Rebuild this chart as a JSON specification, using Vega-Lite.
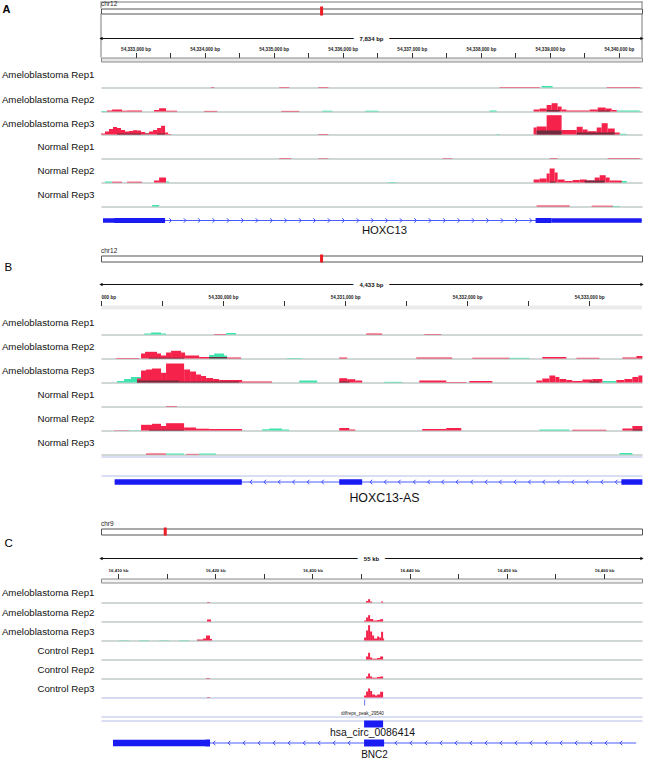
{
"$schema": "https://vega.github.io/schema/vega-lite/v6.json",
"background": "#ffffff",
"padding": {"left": 1, "top": 0.5, "right": 0, "bottom": 0},
"spacing": 0,
"bounds": "flush",
"config": {
  "font": "Liberation Sans",
  "view": {"stroke": null},
  "axisX": {"labels": false, "ticks": false, "grid": false, "domain": true, "domainColor": "#9fb1ad", "domainWidth": 1},
  "axisY": {"labels": false, "ticks": false, "grid": false, "domain": false, "titleAngle": 0, "titleAlign": "right", "titleBaseline": "middle", "titleX": -7, "titleFontSize": 9.7, "titleFontWeight": "normal", "titleColor": "#111111"},
  "title": {"anchor": "start", "fontSize": 6.5, "fontWeight": "normal", "color": "#222222", "offset": 1, "frame": "group"}
},
"datasets": {
  "ideo": [
    {"panel": "A", "chrom": "chr12", "length": 133275309, "pos": 54336417},
    {"panel": "B", "chrom": "chr12", "length": 133275309, "pos": 54331216},
    {"panel": "C", "chrom": "chr9", "length": 138394717, "pos": 16436075}
  ],
  "ruler": [
    {"panel": "A", "start": 54332500, "end": 54340334, "label": "7,834 bp"},
    {"panel": "B", "start": 54329000, "end": 54333433, "label": "4,433 bp"},
    {"panel": "C", "start": 16408250, "end": 16463900, "label": "55 kb"}
  ],
  "feat": [
    {"panel": "A", "kind": "tx", "start": 54332529, "end": 54340330},
    {"panel": "A", "kind": "utr", "start": 54332529, "end": 54332689},
    {"panel": "A", "kind": "cds", "start": 54332689, "end": 54333428},
    {"panel": "A", "kind": "cds", "start": 54338793, "end": 54339025},
    {"panel": "A", "kind": "utr", "start": 54339025, "end": 54340330},
    {"panel": "B", "kind": "tx", "start": 54329112, "end": 54333436},
    {"panel": "B", "kind": "nc", "start": 54329112, "end": 54330154},
    {"panel": "B", "kind": "nc", "start": 54330952, "end": 54331140},
    {"panel": "B", "kind": "nc", "start": 54333264, "end": 54333436},
    {"panel": "C", "kind": "tx", "start": 16409485, "end": 16463302},
    {"panel": "C", "kind": "utr2", "start": 16409485, "end": 16418952},
    {"panel": "C", "kind": "cds2", "start": 16418952, "end": 16419466},
    {"panel": "C", "kind": "cds2", "start": 16435313, "end": 16437371},
    {"panel": "C", "kind": "circ", "start": 16435313, "end": 16437268},
    {"panel": "C", "kind": "peak", "start": 16435365, "end": 16435416}
  ],
  "chev": [
    {"panel": "A", "start": 54333508}, {"panel": "A", "start": 54333718}, {"panel": "A", "start": 54333925}, {"panel": "A", "start": 54334134},
    {"panel": "A", "start": 54334342}, {"panel": "A", "start": 54334550}, {"panel": "A", "start": 54334759}, {"panel": "A", "start": 54334968},
    {"panel": "A", "start": 54335177}, {"panel": "A", "start": 54335386}, {"panel": "A", "start": 54335594}, {"panel": "A", "start": 54335803},
    {"panel": "A", "start": 54336012}, {"panel": "A", "start": 54336221}, {"panel": "A", "start": 54336430}, {"panel": "A", "start": 54336638},
    {"panel": "A", "start": 54336847}, {"panel": "A", "start": 54337056}, {"panel": "A", "start": 54337265}, {"panel": "A", "start": 54337474},
    {"panel": "A", "start": 54337682}, {"panel": "A", "start": 54337891}, {"panel": "A", "start": 54338100}, {"panel": "A", "start": 54338309},
    {"panel": "A", "start": 54338518}, {"panel": "A", "start": 54338726},
    {"panel": "B", "start": 54330228}, {"panel": "B", "start": 54330342}, {"panel": "B", "start": 54330460}, {"panel": "B", "start": 54330577},
    {"panel": "B", "start": 54330697}, {"panel": "B", "start": 54330815}, {"panel": "B", "start": 54331212}, {"panel": "B", "start": 54331329},
    {"panel": "B", "start": 54331444}, {"panel": "B", "start": 54331567}, {"panel": "B", "start": 54331684}, {"panel": "B", "start": 54331799},
    {"panel": "B", "start": 54331917}, {"panel": "B", "start": 54332037}, {"panel": "B", "start": 54332155}, {"panel": "B", "start": 54332272},
    {"panel": "B", "start": 54332392}, {"panel": "B", "start": 54332510}, {"panel": "B", "start": 54332627}, {"panel": "B", "start": 54332747},
    {"panel": "B", "start": 54332865}, {"panel": "B", "start": 54332983}, {"panel": "B", "start": 54333103}, {"panel": "B", "start": 54333221},
    {"panel": "C", "start": 16419878}, {"panel": "C", "start": 16421421}, {"panel": "C", "start": 16422965}, {"panel": "C", "start": 16424508},
    {"panel": "C", "start": 16426052}, {"panel": "C", "start": 16427595}, {"panel": "C", "start": 16429139}, {"panel": "C", "start": 16430682},
    {"panel": "C", "start": 16432226}, {"panel": "C", "start": 16433769}, {"panel": "C", "start": 16438575}, {"panel": "C", "start": 16440118},
    {"panel": "C", "start": 16441662}, {"panel": "C", "start": 16443205}, {"panel": "C", "start": 16444749}, {"panel": "C", "start": 16446292},
    {"panel": "C", "start": 16447836}, {"panel": "C", "start": 16449379}, {"panel": "C", "start": 16450923}, {"panel": "C", "start": 16452466},
    {"panel": "C", "start": 16454010}, {"panel": "C", "start": 16455553}, {"panel": "C", "start": 16457097}, {"panel": "C", "start": 16458640},
    {"panel": "C", "start": 16460184}, {"panel": "C", "start": 16461727}
  ],
  "cov": [
    {"track": "A3", "strand": "rev", "start": 54333080, "end": 54333196, "value": 1.5},
    {"track": "A3", "strand": "rev", "start": 54338228, "end": 54338271, "value": 0.5},
    {"track": "A3", "strand": "rev", "start": 54339533, "end": 54339605, "value": 1.5},
    {"track": "A3", "strand": "rev", "start": 54340011, "end": 54340113, "value": 0.7},
    {"track": "A2", "strand": "rev", "start": 54332500, "end": 54332587, "value": 0.5},
    {"track": "A2", "strand": "rev", "start": 54335705, "end": 54335850, "value": 0.8},
    {"track": "A2", "strand": "rev", "start": 54336328, "end": 54336517, "value": 0.8},
    {"track": "A2", "strand": "rev", "start": 54338126, "end": 54338228, "value": 1},
    {"track": "A2", "strand": "rev", "start": 54339968, "end": 54340301, "value": 1},
    {"track": "A1", "strand": "rev", "start": 54338880, "end": 54339040, "value": 1.5},
    {"track": "A5", "strand": "rev", "start": 54332558, "end": 54332660, "value": 1},
    {"track": "A5", "strand": "rev", "start": 54333442, "end": 54333486, "value": 1},
    {"track": "A5", "strand": "rev", "start": 54336662, "end": 54336778, "value": 0.5},
    {"track": "A5", "strand": "rev", "start": 54340011, "end": 54340113, "value": 1.5},
    {"track": "A6", "strand": "rev", "start": 54333240, "end": 54333341, "value": 1.5},
    {"track": "A6", "strand": "rev", "start": 54339895, "end": 54340011, "value": 0.6},
    {"track": "B3", "strand": "rev", "start": 54329131, "end": 54329189, "value": 1.5},
    {"track": "B3", "strand": "rev", "start": 54329189, "end": 54329246, "value": 3.5},
    {"track": "B3", "strand": "rev", "start": 54329246, "end": 54329328, "value": 5.5},
    {"track": "B3", "strand": "rev", "start": 54330624, "end": 54330771, "value": 2},
    {"track": "B3", "strand": "rev", "start": 54331321, "end": 54331468, "value": 0.7},
    {"track": "B3", "strand": "rev", "start": 54333108, "end": 54333223, "value": 1.5},
    {"track": "B2", "strand": "rev", "start": 54329886, "end": 54329927, "value": 3.5},
    {"track": "B2", "strand": "rev", "start": 54329927, "end": 54330009, "value": 5},
    {"track": "B2", "strand": "rev", "start": 54330009, "end": 54330033, "value": 3},
    {"track": "B2", "strand": "rev", "start": 54330525, "end": 54330648, "value": 0.5},
    {"track": "B2", "strand": "rev", "start": 54332346, "end": 54332510, "value": 0.7},
    {"track": "B1", "strand": "rev", "start": 54329353, "end": 54329410, "value": 1},
    {"track": "B1", "strand": "rev", "start": 54329410, "end": 54329492, "value": 2},
    {"track": "B1", "strand": "rev", "start": 54329492, "end": 54329533, "value": 1},
    {"track": "B1", "strand": "rev", "start": 54330025, "end": 54330107, "value": 1.5},
    {"track": "B5", "strand": "rev", "start": 54329230, "end": 54329328, "value": 0.3},
    {"track": "B5", "strand": "rev", "start": 54330320, "end": 54330378, "value": 1.2},
    {"track": "B5", "strand": "rev", "start": 54330378, "end": 54330484, "value": 2},
    {"track": "B5", "strand": "rev", "start": 54330484, "end": 54330542, "value": 1},
    {"track": "B5", "strand": "rev", "start": 54332592, "end": 54332838, "value": 1},
    {"track": "B6", "strand": "rev", "start": 54329533, "end": 54329681, "value": 1},
    {"track": "B6", "strand": "rev", "start": 54329804, "end": 54329943, "value": 1},
    {"track": "B6", "strand": "rev", "start": 54333248, "end": 54333354, "value": 1.5},
    {"track": "C3", "strand": "rev", "start": 16410102, "end": 16411131, "value": 0.3},
    {"track": "C3", "strand": "rev", "start": 16412160, "end": 16413189, "value": 0.4},
    {"track": "C3", "strand": "rev", "start": 16414218, "end": 16415247, "value": 0.3},
    {"track": "C3", "strand": "rev", "start": 16416276, "end": 16417305, "value": 0.4},
    {"track": "C3", "strand": "rev", "start": 16418128, "end": 16418746, "value": 0.5},

    {"track": "A3", "strand": "fwd", "start": 54332500, "end": 54332558, "value": 1},
    {"track": "A3", "strand": "fwd", "start": 54332558, "end": 54332616, "value": 3},
    {"track": "A3", "strand": "fwd", "start": 54332616, "end": 54332674, "value": 5.5},
    {"track": "A3", "strand": "fwd", "start": 54332674, "end": 54332732, "value": 7.5},
    {"track": "A3", "strand": "fwd", "start": 54332732, "end": 54332790, "value": 6.5},
    {"track": "A3", "strand": "fwd", "start": 54332790, "end": 54332848, "value": 4.5},
    {"track": "A3", "strand": "fwd", "start": 54332848, "end": 54332906, "value": 3},
    {"track": "A3", "strand": "fwd", "start": 54332906, "end": 54332964, "value": 3.5},
    {"track": "A3", "strand": "fwd", "start": 54332964, "end": 54333022, "value": 4.3},
    {"track": "A3", "strand": "fwd", "start": 54333022, "end": 54333080, "value": 4},
    {"track": "A3", "strand": "fwd", "start": 54333080, "end": 54333138, "value": 2.5},
    {"track": "A3", "strand": "fwd", "start": 54333138, "end": 54333196, "value": 1.2},
    {"track": "A3", "strand": "fwd", "start": 54333196, "end": 54333254, "value": 3},
    {"track": "A3", "strand": "fwd", "start": 54333254, "end": 54333312, "value": 4.5},
    {"track": "A3", "strand": "fwd", "start": 54333312, "end": 54333370, "value": 6.5},
    {"track": "A3", "strand": "fwd", "start": 54333370, "end": 54333428, "value": 8.7},
    {"track": "A3", "strand": "fwd", "start": 54333428, "end": 54333472, "value": 2},
    {"track": "A3", "strand": "fwd", "start": 54333472, "end": 54333515, "value": 0.5},
    {"track": "A3", "strand": "fwd", "start": 54335647, "end": 54335792, "value": 0.5},
    {"track": "A3", "strand": "fwd", "start": 54338764, "end": 54338808, "value": 7},
    {"track": "A3", "strand": "fwd", "start": 54338808, "end": 54338953, "value": 8},
    {"track": "A3", "strand": "fwd", "start": 54338953, "end": 54339170, "value": 19.3},
    {"track": "A3", "strand": "fwd", "start": 54339170, "end": 54339388, "value": 4.5},
    {"track": "A3", "strand": "fwd", "start": 54339388, "end": 54339475, "value": 7.7},
    {"track": "A3", "strand": "fwd", "start": 54339475, "end": 54339547, "value": 5},
    {"track": "A3", "strand": "fwd", "start": 54339547, "end": 54339678, "value": 3.3},
    {"track": "A3", "strand": "fwd", "start": 54339678, "end": 54339750, "value": 7},
    {"track": "A3", "strand": "fwd", "start": 54339750, "end": 54339837, "value": 11.3},
    {"track": "A3", "strand": "fwd", "start": 54339837, "end": 54339939, "value": 6},
    {"track": "A3", "strand": "fwd", "start": 54339939, "end": 54340011, "value": 2},
    {"track": "A2", "strand": "fwd", "start": 54332587, "end": 54332660, "value": 1},
    {"track": "A2", "strand": "fwd", "start": 54332660, "end": 54332804, "value": 2},
    {"track": "A2", "strand": "fwd", "start": 54332804, "end": 54332877, "value": 0.8},
    {"track": "A2", "strand": "fwd", "start": 54332877, "end": 54333094, "value": 1},
    {"track": "A2", "strand": "fwd", "start": 54333268, "end": 54333341, "value": 1.5},
    {"track": "A2", "strand": "fwd", "start": 54333341, "end": 54333442, "value": 3.3},
    {"track": "A2", "strand": "fwd", "start": 54333442, "end": 54333602, "value": 0.8},
    {"track": "A2", "strand": "fwd", "start": 54333994, "end": 54334182, "value": 0.6},
    {"track": "A2", "strand": "fwd", "start": 54335110, "end": 54335371, "value": 0.6},
    {"track": "A2", "strand": "fwd", "start": 54338764, "end": 54338851, "value": 2},
    {"track": "A2", "strand": "fwd", "start": 54338851, "end": 54338953, "value": 3},
    {"track": "A2", "strand": "fwd", "start": 54338953, "end": 54339025, "value": 6.5},
    {"track": "A2", "strand": "fwd", "start": 54339025, "end": 54339112, "value": 8.3},
    {"track": "A2", "strand": "fwd", "start": 54339112, "end": 54339170, "value": 5},
    {"track": "A2", "strand": "fwd", "start": 54339170, "end": 54339243, "value": 2},
    {"track": "A2", "strand": "fwd", "start": 54339243, "end": 54339576, "value": 1},
    {"track": "A2", "strand": "fwd", "start": 54339576, "end": 54339692, "value": 2},
    {"track": "A2", "strand": "fwd", "start": 54339692, "end": 54339808, "value": 4},
    {"track": "A2", "strand": "fwd", "start": 54339808, "end": 54339895, "value": 3},
    {"track": "A2", "strand": "fwd", "start": 54339895, "end": 54339968, "value": 1.5},
    {"track": "A1", "strand": "fwd", "start": 54334095, "end": 54334139, "value": 0.5},
    {"track": "A1", "strand": "fwd", "start": 54335081, "end": 54335226, "value": 0.5},
    {"track": "A1", "strand": "fwd", "start": 54335647, "end": 54335792, "value": 0.5},
    {"track": "A1", "strand": "fwd", "start": 54338271, "end": 54338851, "value": 0.6},
    {"track": "A1", "strand": "fwd", "start": 54339823, "end": 54340301, "value": 0.6},
    {"track": "A4", "strand": "fwd", "start": 54335081, "end": 54335255, "value": 0.5},
    {"track": "A4", "strand": "fwd", "start": 54335647, "end": 54335792, "value": 0.4},
    {"track": "A4", "strand": "fwd", "start": 54337445, "end": 54337590, "value": 0.4},
    {"track": "A4", "strand": "fwd", "start": 54338996, "end": 54339112, "value": 0.5},
    {"track": "A4", "strand": "fwd", "start": 54339837, "end": 54340301, "value": 0.5},
    {"track": "A5", "strand": "fwd", "start": 54332660, "end": 54332804, "value": 0.8},
    {"track": "A5", "strand": "fwd", "start": 54332877, "end": 54333094, "value": 0.8},
    {"track": "A5", "strand": "fwd", "start": 54333268, "end": 54333341, "value": 2},
    {"track": "A5", "strand": "fwd", "start": 54333341, "end": 54333442, "value": 5},
    {"track": "A5", "strand": "fwd", "start": 54338764, "end": 54338851, "value": 3},
    {"track": "A5", "strand": "fwd", "start": 54338851, "end": 54338953, "value": 4},
    {"track": "A5", "strand": "fwd", "start": 54338953, "end": 54338996, "value": 9},
    {"track": "A5", "strand": "fwd", "start": 54338996, "end": 54339069, "value": 14},
    {"track": "A5", "strand": "fwd", "start": 54339069, "end": 54339112, "value": 10},
    {"track": "A5", "strand": "fwd", "start": 54339112, "end": 54339214, "value": 3},
    {"track": "A5", "strand": "fwd", "start": 54339214, "end": 54339330, "value": 1.5},
    {"track": "A5", "strand": "fwd", "start": 54339330, "end": 54339431, "value": 2.5},
    {"track": "A5", "strand": "fwd", "start": 54339431, "end": 54339533, "value": 3},
    {"track": "A5", "strand": "fwd", "start": 54339533, "end": 54339649, "value": 2},
    {"track": "A5", "strand": "fwd", "start": 54339649, "end": 54339721, "value": 5},
    {"track": "A5", "strand": "fwd", "start": 54339721, "end": 54339808, "value": 7.3},
    {"track": "A5", "strand": "fwd", "start": 54339808, "end": 54339866, "value": 5},
    {"track": "A5", "strand": "fwd", "start": 54339866, "end": 54340040, "value": 2},
    {"track": "A6", "strand": "fwd", "start": 54338808, "end": 54339286, "value": 1},
    {"track": "A6", "strand": "fwd", "start": 54339605, "end": 54339910, "value": 0.8},

    {"track": "B3", "strand": "fwd", "start": 54329295, "end": 54329328, "value": 4},
    {"track": "B3", "strand": "fwd", "start": 54329328, "end": 54329369, "value": 12},
    {"track": "B3", "strand": "fwd", "start": 54329369, "end": 54329418, "value": 13},
    {"track": "B3", "strand": "fwd", "start": 54329418, "end": 54329492, "value": 14},
    {"track": "B3", "strand": "fwd", "start": 54329492, "end": 54329533, "value": 9.7},
    {"track": "B3", "strand": "fwd", "start": 54329533, "end": 54329681, "value": 19},
    {"track": "B3", "strand": "fwd", "start": 54329681, "end": 54329730, "value": 13},
    {"track": "B3", "strand": "fwd", "start": 54329730, "end": 54329779, "value": 11},
    {"track": "B3", "strand": "fwd", "start": 54329779, "end": 54329820, "value": 8},
    {"track": "B3", "strand": "fwd", "start": 54329820, "end": 54329861, "value": 6.5},
    {"track": "B3", "strand": "fwd", "start": 54329861, "end": 54329918, "value": 4.5},
    {"track": "B3", "strand": "fwd", "start": 54329918, "end": 54329968, "value": 3.5},
    {"track": "B3", "strand": "fwd", "start": 54329968, "end": 54330156, "value": 2.5},
    {"track": "B3", "strand": "fwd", "start": 54330156, "end": 54330402, "value": 1},
    {"track": "B3", "strand": "fwd", "start": 54330952, "end": 54331017, "value": 4.3},
    {"track": "B3", "strand": "fwd", "start": 54331017, "end": 54331083, "value": 3.3},
    {"track": "B3", "strand": "fwd", "start": 54331083, "end": 54331140, "value": 2},
    {"track": "B3", "strand": "fwd", "start": 54331608, "end": 54331829, "value": 2},
    {"track": "B3", "strand": "fwd", "start": 54331829, "end": 54331993, "value": 0.5},
    {"track": "B3", "strand": "fwd", "start": 54332018, "end": 54332206, "value": 1.5},
    {"track": "B3", "strand": "fwd", "start": 54332567, "end": 54332616, "value": 2},
    {"track": "B3", "strand": "fwd", "start": 54332616, "end": 54332674, "value": 4},
    {"track": "B3", "strand": "fwd", "start": 54332674, "end": 54332723, "value": 7},
    {"track": "B3", "strand": "fwd", "start": 54332723, "end": 54332756, "value": 5.5},
    {"track": "B3", "strand": "fwd", "start": 54332756, "end": 54332813, "value": 3.5},
    {"track": "B3", "strand": "fwd", "start": 54332813, "end": 54332862, "value": 2.5},
    {"track": "B3", "strand": "fwd", "start": 54332862, "end": 54332944, "value": 1.5},
    {"track": "B3", "strand": "fwd", "start": 54332944, "end": 54333026, "value": 3},
    {"track": "B3", "strand": "fwd", "start": 54333026, "end": 54333108, "value": 3.5},
    {"track": "B3", "strand": "fwd", "start": 54333223, "end": 54333289, "value": 2.5},
    {"track": "B3", "strand": "fwd", "start": 54333289, "end": 54333354, "value": 3.5},
    {"track": "B3", "strand": "fwd", "start": 54333354, "end": 54333403, "value": 5.5},
    {"track": "B3", "strand": "fwd", "start": 54333403, "end": 54333436, "value": 7},
    {"track": "B2", "strand": "fwd", "start": 54329123, "end": 54329312, "value": 0.5},
    {"track": "B2", "strand": "fwd", "start": 54329328, "end": 54329361, "value": 5},
    {"track": "B2", "strand": "fwd", "start": 54329361, "end": 54329459, "value": 6.7},
    {"track": "B2", "strand": "fwd", "start": 54329459, "end": 54329492, "value": 5},
    {"track": "B2", "strand": "fwd", "start": 54329492, "end": 54329533, "value": 3},
    {"track": "B2", "strand": "fwd", "start": 54329533, "end": 54329574, "value": 6},
    {"track": "B2", "strand": "fwd", "start": 54329574, "end": 54329656, "value": 7.7},
    {"track": "B2", "strand": "fwd", "start": 54329656, "end": 54329689, "value": 6},
    {"track": "B2", "strand": "fwd", "start": 54329689, "end": 54329804, "value": 3},
    {"track": "B2", "strand": "fwd", "start": 54329804, "end": 54329886, "value": 1.5},
    {"track": "B2", "strand": "fwd", "start": 54330033, "end": 54330148, "value": 1},
    {"track": "B2", "strand": "fwd", "start": 54330952, "end": 54331017, "value": 1},
    {"track": "B2", "strand": "fwd", "start": 54331583, "end": 54331878, "value": 1},
    {"track": "B2", "strand": "fwd", "start": 54332042, "end": 54332346, "value": 0.7},
    {"track": "B2", "strand": "fwd", "start": 54332616, "end": 54332813, "value": 1.5},
    {"track": "B2", "strand": "fwd", "start": 54332895, "end": 54333084, "value": 0.7},
    {"track": "B2", "strand": "fwd", "start": 54333272, "end": 54333387, "value": 1},
    {"track": "B2", "strand": "fwd", "start": 54333387, "end": 54333436, "value": 2.5},
    {"track": "B1", "strand": "fwd", "start": 54329927, "end": 54330025, "value": 0.5},
    {"track": "B1", "strand": "fwd", "start": 54331173, "end": 54331304, "value": 1},
    {"track": "B1", "strand": "fwd", "start": 54331649, "end": 54331788, "value": 0.5},
    {"track": "B4", "strand": "fwd", "start": 54329533, "end": 54329623, "value": 0.5},
    {"track": "B5", "strand": "fwd", "start": 54329107, "end": 54329230, "value": 0.3},
    {"track": "B5", "strand": "fwd", "start": 54329328, "end": 54329418, "value": 5.7},
    {"track": "B5", "strand": "fwd", "start": 54329418, "end": 54329492, "value": 6.7},
    {"track": "B5", "strand": "fwd", "start": 54329492, "end": 54329533, "value": 4.5},
    {"track": "B5", "strand": "fwd", "start": 54329533, "end": 54329681, "value": 7.3},
    {"track": "B5", "strand": "fwd", "start": 54329681, "end": 54329779, "value": 3},
    {"track": "B5", "strand": "fwd", "start": 54329779, "end": 54329886, "value": 1.8},
    {"track": "B5", "strand": "fwd", "start": 54329886, "end": 54330156, "value": 1.5},
    {"track": "B5", "strand": "fwd", "start": 54330952, "end": 54331034, "value": 2.5},
    {"track": "B5", "strand": "fwd", "start": 54331034, "end": 54331083, "value": 1},
    {"track": "B5", "strand": "fwd", "start": 54331632, "end": 54331829, "value": 1.5},
    {"track": "B5", "strand": "fwd", "start": 54331829, "end": 54331952, "value": 2.5},
    {"track": "B5", "strand": "fwd", "start": 54332862, "end": 54333141, "value": 0.7},
    {"track": "B5", "strand": "fwd", "start": 54333272, "end": 54333354, "value": 2},
    {"track": "B5", "strand": "fwd", "start": 54333354, "end": 54333436, "value": 4.5},
    {"track": "B6", "strand": "fwd", "start": 54329369, "end": 54329533, "value": 1},
    {"track": "B6", "strand": "fwd", "start": 54329697, "end": 54329804, "value": 0.6},

    {"track": "C1", "strand": "fwd", "start": 16419157, "end": 16419466, "value": 0.5},
    {"track": "C1", "strand": "fwd", "start": 16435519, "end": 16435724, "value": 1.5},
    {"track": "C1", "strand": "fwd", "start": 16435724, "end": 16435930, "value": 3.3},
    {"track": "C1", "strand": "fwd", "start": 16435930, "end": 16436136, "value": 1},
    {"track": "C1", "strand": "fwd", "start": 16437062, "end": 16437268, "value": 1},
    {"track": "C2", "strand": "fwd", "start": 16419157, "end": 16419569, "value": 2},
    {"track": "C2", "strand": "fwd", "start": 16435313, "end": 16435519, "value": 1},
    {"track": "C2", "strand": "fwd", "start": 16435519, "end": 16435724, "value": 4},
    {"track": "C2", "strand": "fwd", "start": 16435724, "end": 16435930, "value": 6.3},
    {"track": "C2", "strand": "fwd", "start": 16435930, "end": 16436239, "value": 2.5},
    {"track": "C2", "strand": "fwd", "start": 16436239, "end": 16436650, "value": 1},
    {"track": "C2", "strand": "fwd", "start": 16436650, "end": 16436959, "value": 1.5},
    {"track": "C2", "strand": "fwd", "start": 16436959, "end": 16437268, "value": 2.3},
    {"track": "C3", "strand": "fwd", "start": 16418128, "end": 16418746, "value": 1},
    {"track": "C3", "strand": "fwd", "start": 16418746, "end": 16419055, "value": 2},
    {"track": "C3", "strand": "fwd", "start": 16419055, "end": 16419466, "value": 5},
    {"track": "C3", "strand": "fwd", "start": 16419466, "end": 16419672, "value": 1.5},
    {"track": "C3", "strand": "fwd", "start": 16435313, "end": 16435519, "value": 3},
    {"track": "C3", "strand": "fwd", "start": 16435519, "end": 16435724, "value": 10},
    {"track": "C3", "strand": "fwd", "start": 16435724, "end": 16435930, "value": 15.3},
    {"track": "C3", "strand": "fwd", "start": 16435930, "end": 16436136, "value": 9},
    {"track": "C3", "strand": "fwd", "start": 16436136, "end": 16436342, "value": 5},
    {"track": "C3", "strand": "fwd", "start": 16436342, "end": 16436650, "value": 2},
    {"track": "C3", "strand": "fwd", "start": 16436650, "end": 16436856, "value": 4},
    {"track": "C3", "strand": "fwd", "start": 16436856, "end": 16437062, "value": 3},
    {"track": "C3", "strand": "fwd", "start": 16437062, "end": 16437268, "value": 8.7},
    {"track": "C3", "strand": "fwd", "start": 16437268, "end": 16437371, "value": 2},
    {"track": "C4", "strand": "fwd", "start": 16435519, "end": 16435724, "value": 3},
    {"track": "C4", "strand": "fwd", "start": 16435724, "end": 16435930, "value": 6.7},
    {"track": "C4", "strand": "fwd", "start": 16435930, "end": 16436136, "value": 2},
    {"track": "C4", "strand": "fwd", "start": 16436136, "end": 16436650, "value": 0.8},
    {"track": "C4", "strand": "fwd", "start": 16436650, "end": 16436959, "value": 1.5},
    {"track": "C4", "strand": "fwd", "start": 16436959, "end": 16437268, "value": 3},
    {"track": "C5", "strand": "fwd", "start": 16419055, "end": 16419466, "value": 0.5},
    {"track": "C5", "strand": "fwd", "start": 16435519, "end": 16435724, "value": 2},
    {"track": "C5", "strand": "fwd", "start": 16435724, "end": 16435930, "value": 5},
    {"track": "C5", "strand": "fwd", "start": 16435930, "end": 16436136, "value": 2},
    {"track": "C5", "strand": "fwd", "start": 16436136, "end": 16436650, "value": 0.8},
    {"track": "C5", "strand": "fwd", "start": 16436650, "end": 16436959, "value": 1.5},
    {"track": "C5", "strand": "fwd", "start": 16436959, "end": 16437268, "value": 2},
    {"track": "C6", "strand": "fwd", "start": 16419157, "end": 16419466, "value": 0.5},
    {"track": "C6", "strand": "fwd", "start": 16435313, "end": 16435519, "value": 2},
    {"track": "C6", "strand": "fwd", "start": 16435519, "end": 16435724, "value": 6},
    {"track": "C6", "strand": "fwd", "start": 16435724, "end": 16435930, "value": 9},
    {"track": "C6", "strand": "fwd", "start": 16435930, "end": 16436136, "value": 6.5},
    {"track": "C6", "strand": "fwd", "start": 16436136, "end": 16436445, "value": 3},
    {"track": "C6", "strand": "fwd", "start": 16436445, "end": 16436650, "value": 2},
    {"track": "C6", "strand": "fwd", "start": 16436650, "end": 16436959, "value": 3},
    {"track": "C6", "strand": "fwd", "start": 16436959, "end": 16437268, "value": 5.7},

    {"track": "A3", "strand": "both", "start": 54332732, "end": 54333080, "value": 1},
    {"track": "A3", "strand": "both", "start": 54333312, "end": 54333428, "value": 1},
    {"track": "A3", "strand": "both", "start": 54338808, "end": 54339170, "value": 4},
    {"track": "A3", "strand": "both", "start": 54339388, "end": 54339939, "value": 2},
    {"track": "A2", "strand": "both", "start": 54338953, "end": 54339141, "value": 1.5},
    {"track": "A2", "strand": "both", "start": 54339692, "end": 54339866, "value": 1},
    {"track": "A5", "strand": "both", "start": 54338996, "end": 54339083, "value": 1},
    {"track": "A5", "strand": "both", "start": 54339504, "end": 54339794, "value": 2},
    {"track": "B3", "strand": "both", "start": 54329295, "end": 54329640, "value": 2},
    {"track": "B3", "strand": "both", "start": 54329640, "end": 54330132, "value": 1},
    {"track": "B3", "strand": "both", "start": 54330952, "end": 54331034, "value": 1},
    {"track": "B3", "strand": "both", "start": 54333002, "end": 54333084, "value": 1},
    {"track": "B2", "strand": "both", "start": 54329886, "end": 54330033, "value": 1.5},
    {"track": "B2", "strand": "both", "start": 54329394, "end": 54329681, "value": 0.8},
    {"track": "B5", "strand": "both", "start": 54333354, "end": 54333436, "value": 1},
    {"track": "B5", "strand": "both", "start": 54329394, "end": 54329681, "value": 0.8}
  ]
},
"vconcat": [
  {"width": 541, "height": 7, "data": {"values": [{}]},
   "layer": [
     {"mark": {"type": "rule", "color": "#7a7a7a", "strokeWidth": 1},
      "encoding": {"x": {"datum": 0, "type": "quantitative", "scale": {"domain": [0, 1], "nice": false, "zero": false},
        "axis": {"orient": "top", "domain": true, "domainColor": "#7a7a7a", "title": "A", "titleX": -99, "titleY": 8, "titleAlign": "left", "titleBaseline": "middle", "titleAngle": 0, "titleFontSize": 11, "titleFontWeight": "bold", "titleColor": "#000000"}}}},
     {"mark": {"type": "rule", "color": "#7a7a7a", "strokeWidth": 1}, "encoding": {"x": {"datum": 1, "type": "quantitative"}}}
   ]},

  {"width": 541, "height": 5, "title": {"text": "chr12", "offset": -1}, "view": {"stroke": "#555555", "fill": "#ffffff", "strokeWidth": 1},
   "data": {"name": "ideo"}, "transform": [{"filter": "datum.panel === 'A'"}],
   "mark": {"type": "tick", "color": "#ee1c25", "thickness": 3, "size": 9, "opacity": 1},
   "encoding": {"x": {"field": "pos", "type": "quantitative", "scale": {"domain": [0, 133275309], "nice": false}, "axis": null}}},

  {"width": 541, "height": 6, "data": {"values": [{}]},
   "layer": [
     {"mark": {"type": "rule", "color": "#7a7a7a", "strokeWidth": 1}, "encoding": {"x": {"datum": 0, "type": "quantitative", "scale": {"domain": [0, 1], "nice": false, "zero": false}, "axis": null}}},
     {"mark": {"type": "rule", "color": "#7a7a7a", "strokeWidth": 1}, "encoding": {"x": {"datum": 1, "type": "quantitative", "axis": null}}}
   ]},

  {"width": 541, "height": 38, "data": {"name": "ruler"}, "transform": [{"filter": "datum.panel === 'A'"}],
   "layer": [
     {"mark": {"type": "rule", "color": "#7a7a7a", "strokeWidth": 1}, "encoding": {"x": {"datum": 54332500, "type": "quantitative", "scale": {"domain": [54332500, 54340334], "nice": false, "zero": false}, "axis": null}}},
     {"mark": {"type": "rule", "color": "#7a7a7a", "strokeWidth": 1}, "encoding": {"x": {"datum": 54340334, "type": "quantitative", "axis": null}}},
     {"mark": {"type": "rule", "color": "#111111", "strokeWidth": 1}, "encoding": {"x": {"field": "start", "type": "quantitative", "scale": {"domain": [54332500, 54340334], "nice": false, "zero": false}, "axis": null}, "x2": {"field": "end"}}},
     {"mark": {"type": "point", "shape": "triangle-left", "filled": true, "color": "#111111", "size": 14, "opacity": 1}, "encoding": {"x": {"field": "start", "type": "quantitative", "scale": {"domain": [54332500, 54340334], "nice": false, "zero": false}, "axis": null}}},
     {"mark": {"type": "point", "shape": "triangle-right", "filled": true, "color": "#111111", "size": 14, "opacity": 1}, "encoding": {"x": {"field": "end", "type": "quantitative", "scale": {"domain": [54332500, 54340334], "nice": false, "zero": false}, "axis": null}}},
     {"mark": {"type": "text", "fontSize": 6, "fontWeight": "bold", "fill": "#ffffff", "stroke": "#ffffff", "strokeWidth": 12}, "encoding": {"text": {"field": "label"}}},
     {"mark": {"type": "text", "fontSize": 6, "fontWeight": "bold", "color": "#111111"}, "encoding": {"text": {"field": "label"}}}
   ]},

  {"width": 541, "height": 4, "view": {"fill": "#e6e6e6", "stroke": "#8a8a8a", "strokeWidth": 1},
   "data": {"name": "ruler"}, "transform": [{"filter": "datum.panel === 'A'"}],
   "mark": {"type": "rule", "opacity": 0},
   "encoding": {"x": {"field": "start", "type": "quantitative", "scale": {"domain": [54332500, 54340334], "nice": false, "zero": false},
     "axis": {"orient": "top", "title": null, "domain": false, "ticks": true, "tickSize": 5, "tickColor": "#333333", "labels": true,
       "values": [54333000, 54333500, 54334000, 54334500, 54335000, 54335500, 54336000, 54336500, 54337000, 54337500, 54338000, 54338500, 54339000, 54339500, 54340000],
       "labelExpr": "datum.value % 1000 === 0 ? format(datum.value, ',') + ' bp' : ''",
       "labelFontSize": 4.6, "labelFontWeight": "bold", "labelColor": "#222222", "labelPadding": 1.5, "labelFlush": false, "labelOverlap": false, "labelBound": false}},
     "x2": {"field": "end"}}},

  {"width": 541, "height": 26, "data": {"name": "cov"}, "transform": [{"filter": "datum.track === 'A1'"}], "mark": {"type": "rect"},
   "encoding": {"x": {"field": "start", "type": "quantitative", "scale": {"domain": [54332500, 54340334], "nice": false, "zero": false}, "axis": {"title": null}}, "x2": {"field": "end"},
     "y": {"field": "value", "type": "quantitative", "scale": {"domain": [0, 26], "nice": false}, "axis": {"title": "Ameloblastoma Rep1"}}, "y2": {"datum": 0},
     "color": {"field": "strand", "type": "nominal", "scale": {"domain": ["rev", "fwd", "both"], "range": ["#3fe3ad", "#f5234b", "#6e2c3e"]}, "legend": null}}},
  {"width": 541, "height": 24, "data": {"name": "cov"}, "transform": [{"filter": "datum.track === 'A2'"}], "mark": {"type": "rect"},
   "encoding": {"x": {"field": "start", "type": "quantitative", "scale": {"domain": [54332500, 54340334], "nice": false, "zero": false}, "axis": {"title": null}}, "x2": {"field": "end"},
     "y": {"field": "value", "type": "quantitative", "scale": {"domain": [0, 24], "nice": false}, "axis": {"title": "Ameloblastoma Rep2"}}, "y2": {"datum": 0},
     "color": {"field": "strand", "type": "nominal", "scale": {"domain": ["rev", "fwd", "both"], "range": ["#3fe3ad", "#f5234b", "#6e2c3e"]}, "legend": null}}},
  {"width": 541, "height": 23, "data": {"name": "cov"}, "transform": [{"filter": "datum.track === 'A3'"}], "mark": {"type": "rect"},
   "encoding": {"x": {"field": "start", "type": "quantitative", "scale": {"domain": [54332500, 54340334], "nice": false, "zero": false}, "axis": {"title": null}}, "x2": {"field": "end"},
     "y": {"field": "value", "type": "quantitative", "scale": {"domain": [0, 23], "nice": false}, "axis": {"title": "Ameloblastoma Rep3"}}, "y2": {"datum": 0},
     "color": {"field": "strand", "type": "nominal", "scale": {"domain": ["rev", "fwd", "both"], "range": ["#3fe3ad", "#f5234b", "#6e2c3e"]}, "legend": null}}},
  {"width": 541, "height": 24, "data": {"name": "cov"}, "transform": [{"filter": "datum.track === 'A4'"}], "mark": {"type": "rect"},
   "encoding": {"x": {"field": "start", "type": "quantitative", "scale": {"domain": [54332500, 54340334], "nice": false, "zero": false}, "axis": {"title": null}}, "x2": {"field": "end"},
     "y": {"field": "value", "type": "quantitative", "scale": {"domain": [0, 24], "nice": false}, "axis": {"title": "Normal Rep1"}}, "y2": {"datum": 0},
     "color": {"field": "strand", "type": "nominal", "scale": {"domain": ["rev", "fwd", "both"], "range": ["#3fe3ad", "#f5234b", "#6e2c3e"]}, "legend": null}}},
  {"width": 541, "height": 24, "data": {"name": "cov"}, "transform": [{"filter": "datum.track === 'A5'"}], "mark": {"type": "rect"},
   "encoding": {"x": {"field": "start", "type": "quantitative", "scale": {"domain": [54332500, 54340334], "nice": false, "zero": false}, "axis": {"title": null}}, "x2": {"field": "end"},
     "y": {"field": "value", "type": "quantitative", "scale": {"domain": [0, 24], "nice": false}, "axis": {"title": "Normal Rep2"}}, "y2": {"datum": 0},
     "color": {"field": "strand", "type": "nominal", "scale": {"domain": ["rev", "fwd", "both"], "range": ["#3fe3ad", "#f5234b", "#6e2c3e"]}, "legend": null}}},
  {"width": 541, "height": 24, "data": {"name": "cov"}, "transform": [{"filter": "datum.track === 'A6'"}], "mark": {"type": "rect"},
   "encoding": {"x": {"field": "start", "type": "quantitative", "scale": {"domain": [54332500, 54340334], "nice": false, "zero": false}, "axis": {"title": null}}, "x2": {"field": "end"},
     "y": {"field": "value", "type": "quantitative", "scale": {"domain": [0, 24], "nice": false}, "axis": {"title": "Normal Rep3"}}, "y2": {"datum": 0},
     "color": {"field": "strand", "type": "nominal", "scale": {"domain": ["rev", "fwd", "both"], "range": ["#3fe3ad", "#f5234b", "#6e2c3e"]}, "legend": null}}},

  {"width": 541, "height": 28, "data": {"name": "feat"},
   "encoding": {"x": {"field": "start", "type": "quantitative", "scale": {"domain": [54332500, 54340334], "nice": false, "zero": false},
     "axis": {"orient": "bottom", "domain": false, "title": "HOXC13", "titleX": 283, "titleY": -4, "titleAlign": "center", "titleBaseline": "middle", "titleAngle": 0, "titleFontSize": 11.3, "titleFontWeight": "normal", "titleColor": "#111111"}}},
   "layer": [
     {"transform": [{"filter": "datum.panel === 'A' && datum.kind === 'tx'"}], "mark": {"type": "rule", "color": "#4b5cff", "strokeWidth": 1}, "encoding": {"x2": {"field": "end"}}},
     {"data": {"name": "chev"}, "transform": [{"filter": "datum.panel === 'A'"}], "mark": {"type": "point", "shape": "M-0.6,-1L0.4,0L-0.6,1", "filled": false, "color": "#3b4cff", "strokeWidth": 1, "size": 20, "opacity": 1}, "encoding": {}},
     {"transform": [{"filter": "datum.panel === 'A' && datum.kind !== 'tx'"}], "mark": {"type": "rule", "color": "#1a1af2", "strokeCap": "butt"},
      "encoding": {"x2": {"field": "end"}, "strokeWidth": {"field": "kind", "type": "nominal", "scale": {"domain": ["utr", "cds", "nc", "circ", "utr2", "cds2"], "range": [4.5, 7, 5, 7, 5, 8.5]}, "legend": null}}}
   ]},

  {"width": 541, "height": 21, "data": {"values": [{}]},
   "mark": {"type": "point", "opacity": 0},
   "encoding": {"x": {"datum": 0, "type": "quantitative", "scale": {"domain": [0, 1], "nice": false, "zero": false},
     "axis": {"orient": "bottom", "domain": false, "title": "B", "titleX": -97, "titleY": 12, "titleAlign": "left", "titleBaseline": "middle", "titleAngle": 0, "titleFontSize": 11.5, "titleFontWeight": "normal", "titleColor": "#000000"}}}},

  {"width": 541, "height": 6, "title": {"text": "chr12", "offset": 0}, "view": {"stroke": "#555555", "fill": "#ffffff", "strokeWidth": 1},
   "data": {"name": "ideo"}, "transform": [{"filter": "datum.panel === 'B'"}],
   "mark": {"type": "tick", "color": "#ee1c25", "thickness": 3, "size": 8, "opacity": 1},
   "encoding": {"x": {"field": "pos", "type": "quantitative", "scale": {"domain": [0, 133275309], "nice": false}, "axis": null}}},

  {"width": 541, "height": 2, "data": {"values": []}, "mark": "point"},

  {"width": 541, "height": 42, "data": {"name": "ruler"}, "transform": [{"filter": "datum.panel === 'B'"}],
   "layer": [
     {"mark": {"type": "rule", "color": "#111111", "strokeWidth": 1}, "encoding": {"x": {"field": "start", "type": "quantitative", "scale": {"domain": [54329000, 54333433], "nice": false, "zero": false}, "axis": null}, "x2": {"field": "end"}}},
     {"mark": {"type": "point", "shape": "triangle-left", "filled": true, "color": "#111111", "size": 14, "opacity": 1}, "encoding": {"x": {"field": "start", "type": "quantitative", "scale": {"domain": [54329000, 54333433], "nice": false, "zero": false}, "axis": null}}},
     {"mark": {"type": "point", "shape": "triangle-right", "filled": true, "color": "#111111", "size": 14, "opacity": 1}, "encoding": {"x": {"field": "end", "type": "quantitative", "scale": {"domain": [54329000, 54333433], "nice": false, "zero": false}, "axis": null}}},
     {"mark": {"type": "text", "fontSize": 6, "fontWeight": "bold", "fill": "#ffffff", "stroke": "#ffffff", "strokeWidth": 12}, "encoding": {"text": {"field": "label"}}},
     {"mark": {"type": "text", "fontSize": 6, "fontWeight": "bold", "color": "#111111"}, "encoding": {"text": {"field": "label"}}}
   ]},

  {"width": 541, "height": 4, "view": {"fill": "#ebebeb", "stroke": null},
   "data": {"name": "ruler"}, "transform": [{"filter": "datum.panel === 'B'"}],
   "mark": {"type": "rule", "opacity": 0},
   "encoding": {"x": {"field": "start", "type": "quantitative", "scale": {"domain": [54329000, 54333433], "nice": false, "zero": false},
     "axis": {"orient": "top", "title": null, "domain": false, "ticks": true, "tickSize": 5, "tickColor": "#333333", "labels": true,
       "values": [54329000, 54329500, 54330000, 54330500, 54331000, 54331500, 54332000, 54332500, 54333000],
       "labelExpr": "datum.value === 54329000 ? '000 bp' : (datum.value % 1000 === 0 ? format(datum.value, ',') + ' bp' : '')",
       "labelAlign": {"condition": {"test": "datum.value === 54329000", "value": "left"}, "value": "center"},
       "labelFontSize": 4.6, "labelFontWeight": "bold", "labelColor": "#222222", "labelPadding": 1.5, "labelFlush": false, "labelOverlap": false, "labelBound": false}},
     "x2": {"field": "end"}}},

  {"width": 541, "height": 25, "data": {"name": "cov"}, "transform": [{"filter": "datum.track === 'B1'"}], "mark": {"type": "rect"},
   "encoding": {"x": {"field": "start", "type": "quantitative", "scale": {"domain": [54329000, 54333433], "nice": false, "zero": false}, "axis": {"title": null}}, "x2": {"field": "end"},
     "y": {"field": "value", "type": "quantitative", "scale": {"domain": [0, 25], "nice": false}, "axis": {"title": "Ameloblastoma Rep1"}}, "y2": {"datum": 0},
     "color": {"field": "strand", "type": "nominal", "scale": {"domain": ["rev", "fwd", "both"], "range": ["#3fe3ad", "#f5234b", "#6e2c3e"]}, "legend": null}}},
  {"width": 541, "height": 24, "data": {"name": "cov"}, "transform": [{"filter": "datum.track === 'B2'"}], "mark": {"type": "rect"},
   "encoding": {"x": {"field": "start", "type": "quantitative", "scale": {"domain": [54329000, 54333433], "nice": false, "zero": false}, "axis": {"title": null}}, "x2": {"field": "end"},
     "y": {"field": "value", "type": "quantitative", "scale": {"domain": [0, 24], "nice": false}, "axis": {"title": "Ameloblastoma Rep2"}}, "y2": {"datum": 0},
     "color": {"field": "strand", "type": "nominal", "scale": {"domain": ["rev", "fwd", "both"], "range": ["#3fe3ad", "#f5234b", "#6e2c3e"]}, "legend": null}}},
  {"width": 541, "height": 24, "data": {"name": "cov"}, "transform": [{"filter": "datum.track === 'B3'"}], "mark": {"type": "rect"},
   "encoding": {"x": {"field": "start", "type": "quantitative", "scale": {"domain": [54329000, 54333433], "nice": false, "zero": false}, "axis": {"title": null}}, "x2": {"field": "end"},
     "y": {"field": "value", "type": "quantitative", "scale": {"domain": [0, 24], "nice": false}, "axis": {"title": "Ameloblastoma Rep3"}}, "y2": {"datum": 0},
     "color": {"field": "strand", "type": "nominal", "scale": {"domain": ["rev", "fwd", "both"], "range": ["#3fe3ad", "#f5234b", "#6e2c3e"]}, "legend": null}}},
  {"width": 541, "height": 24, "data": {"name": "cov"}, "transform": [{"filter": "datum.track === 'B4'"}], "mark": {"type": "rect"},
   "encoding": {"x": {"field": "start", "type": "quantitative", "scale": {"domain": [54329000, 54333433], "nice": false, "zero": false}, "axis": {"title": null}}, "x2": {"field": "end"},
     "y": {"field": "value", "type": "quantitative", "scale": {"domain": [0, 24], "nice": false}, "axis": {"title": "Normal Rep1"}}, "y2": {"datum": 0},
     "color": {"field": "strand", "type": "nominal", "scale": {"domain": ["rev", "fwd", "both"], "range": ["#3fe3ad", "#f5234b", "#6e2c3e"]}, "legend": null}}},
  {"width": 541, "height": 24, "data": {"name": "cov"}, "transform": [{"filter": "datum.track === 'B5'"}], "mark": {"type": "rect"},
   "encoding": {"x": {"field": "start", "type": "quantitative", "scale": {"domain": [54329000, 54333433], "nice": false, "zero": false}, "axis": {"title": null}}, "x2": {"field": "end"},
     "y": {"field": "value", "type": "quantitative", "scale": {"domain": [0, 24], "nice": false}, "axis": {"title": "Normal Rep2"}}, "y2": {"datum": 0},
     "color": {"field": "strand", "type": "nominal", "scale": {"domain": ["rev", "fwd", "both"], "range": ["#3fe3ad", "#f5234b", "#6e2c3e"]}, "legend": null}}},
  {"width": 541, "height": 24, "data": {"name": "cov"}, "transform": [{"filter": "datum.track === 'B6'"}], "mark": {"type": "rect"},
   "encoding": {"x": {"field": "start", "type": "quantitative", "scale": {"domain": [54329000, 54333433], "nice": false, "zero": false}, "axis": {"title": null}}, "x2": {"field": "end"},
     "y": {"field": "value", "type": "quantitative", "scale": {"domain": [0, 24], "nice": false}, "axis": {"title": "Normal Rep3"}}, "y2": {"datum": 0},
     "color": {"field": "strand", "type": "nominal", "scale": {"domain": ["rev", "fwd", "both"], "range": ["#3fe3ad", "#f5234b", "#6e2c3e"]}, "legend": null}}},

  {"width": 541, "height": 2, "data": {"values": []}, "mark": "point"},

  {"width": 541, "height": 19, "data": {"name": "ruler"}, "transform": [{"filter": "datum.panel === 'B'"}],
   "mark": {"type": "rule", "opacity": 0},
   "encoding": {"x": {"field": "start", "type": "quantitative", "scale": {"domain": [54329000, 54333433], "nice": false, "zero": false}, "axis": {"orient": "top", "title": null, "domainColor": "#b4bfe6"}}, "x2": {"field": "end"}}},

  {"width": 541, "height": 13, "data": {"name": "feat"},
   "encoding": {"x": {"field": "start", "type": "quantitative", "scale": {"domain": [54329000, 54333433], "nice": false, "zero": false},
     "axis": {"orient": "top", "domain": true, "domainColor": "#b4bfe6", "title": "HOXC13-AS", "titleX": 283, "titleY": 21.7, "titleAlign": "center", "titleBaseline": "middle", "titleAngle": 0, "titleFontSize": 12.4, "titleFontWeight": "normal", "titleColor": "#111111"}}},
   "layer": [
     {"transform": [{"filter": "datum.panel === 'B' && datum.kind === 'tx'"}], "mark": {"type": "rule", "color": "#4b5cff", "strokeWidth": 1}, "encoding": {"x2": {"field": "end"}}},
     {"data": {"name": "chev"}, "transform": [{"filter": "datum.panel === 'B'"}], "mark": {"type": "point", "shape": "M0.6,-1L-0.4,0L0.6,1", "filled": false, "color": "#3b4cff", "strokeWidth": 1, "size": 20, "opacity": 1}, "encoding": {}},
     {"transform": [{"filter": "datum.panel === 'B' && datum.kind !== 'tx'"}], "mark": {"type": "rule", "color": "#1a1af2", "strokeCap": "butt"},
      "encoding": {"x2": {"field": "end"}, "strokeWidth": {"field": "kind", "type": "nominal", "scale": {"domain": ["utr", "cds", "nc", "circ", "utr2", "cds2"], "range": [4.5, 7, 5, 7, 5, 8.5]}, "legend": null}}}
   ]},

  {"width": 541, "height": 40, "data": {"values": [{}]},
   "mark": {"type": "point", "opacity": 0},
   "encoding": {"x": {"datum": 0, "type": "quantitative", "scale": {"domain": [0, 1], "nice": false, "zero": false},
     "axis": {"orient": "bottom", "domain": false, "title": "C", "titleX": -97, "titleY": 15, "titleAlign": "left", "titleBaseline": "middle", "titleAngle": 0, "titleFontSize": 11.5, "titleFontWeight": "normal", "titleColor": "#000000"}}}},

  {"width": 541, "height": 6, "title": {"text": "chr9", "offset": 0}, "view": {"stroke": "#555555", "fill": "#ffffff", "strokeWidth": 1},
   "data": {"name": "ideo"}, "transform": [{"filter": "datum.panel === 'C'"}],
   "mark": {"type": "tick", "color": "#ee1c25", "thickness": 3, "size": 8, "opacity": 1},
   "encoding": {"x": {"field": "pos", "type": "quantitative", "scale": {"domain": [0, 138394717], "nice": false}, "axis": null}}},

  {"width": 541, "height": 4, "data": {"values": []}, "mark": "point"},

  {"width": 541, "height": 40, "data": {"name": "ruler"}, "transform": [{"filter": "datum.panel === 'C'"}],
   "layer": [
     {"mark": {"type": "rule", "color": "#111111", "strokeWidth": 1}, "encoding": {"x": {"field": "start", "type": "quantitative", "scale": {"domain": [16408250, 16463900], "nice": false, "zero": false}, "axis": null}, "x2": {"field": "end"}}},
     {"mark": {"type": "point", "shape": "triangle-left", "filled": true, "color": "#111111", "size": 14, "opacity": 1}, "encoding": {"x": {"field": "start", "type": "quantitative", "scale": {"domain": [16408250, 16463900], "nice": false, "zero": false}, "axis": null}}},
     {"mark": {"type": "point", "shape": "triangle-right", "filled": true, "color": "#111111", "size": 14, "opacity": 1}, "encoding": {"x": {"field": "end", "type": "quantitative", "scale": {"domain": [16408250, 16463900], "nice": false, "zero": false}, "axis": null}}},
     {"mark": {"type": "text", "fontSize": 6, "fontWeight": "bold", "fill": "#ffffff", "stroke": "#ffffff", "strokeWidth": 12}, "encoding": {"text": {"field": "label"}}},
     {"mark": {"type": "text", "fontSize": 6, "fontWeight": "bold", "color": "#111111"}, "encoding": {"text": {"field": "label"}}}
   ]},

  {"width": 541, "height": 4, "view": {"fill": "#f4f4f4", "stroke": "#8a8a8a", "strokeWidth": 1},
   "data": {"name": "ruler"}, "transform": [{"filter": "datum.panel === 'C'"}],
   "mark": {"type": "rule", "opacity": 0},
   "encoding": {"x": {"field": "start", "type": "quantitative", "scale": {"domain": [16408250, 16463900], "nice": false, "zero": false},
     "axis": {"orient": "top", "title": null, "domain": false, "ticks": true, "tickSize": 5, "tickColor": "#333333", "labels": true,
       "values": [16410000, 16415000, 16420000, 16425000, 16430000, 16435000, 16440000, 16445000, 16450000, 16455000, 16460000],
       "labelExpr": "datum.value % 10000 === 0 ? format(datum.value / 1000, ',') + ' kb' : ''",
       "labelFontSize": 4.4, "labelFontWeight": "bold", "labelColor": "#222222", "labelPadding": 1.5, "labelFlush": false, "labelOverlap": false, "labelBound": false}},
     "x2": {"field": "end"}}},

  {"width": 541, "height": 20, "data": {"name": "cov"}, "transform": [{"filter": "datum.track === 'C1'"}], "mark": {"type": "rect"},
   "encoding": {"x": {"field": "start", "type": "quantitative", "scale": {"domain": [16408250, 16463900], "nice": false, "zero": false}, "axis": {"title": null}}, "x2": {"field": "end"},
     "y": {"field": "value", "type": "quantitative", "scale": {"domain": [0, 20], "nice": false}, "axis": {"title": "Ameloblastoma Rep1"}}, "y2": {"datum": 0},
     "color": {"field": "strand", "type": "nominal", "scale": {"domain": ["rev", "fwd", "both"], "range": ["#3fe3ad", "#f5234b", "#6e2c3e"]}, "legend": null}}},
  {"width": 541, "height": 19, "data": {"name": "cov"}, "transform": [{"filter": "datum.track === 'C2'"}], "mark": {"type": "rect"},
   "encoding": {"x": {"field": "start", "type": "quantitative", "scale": {"domain": [16408250, 16463900], "nice": false, "zero": false}, "axis": {"title": null}}, "x2": {"field": "end"},
     "y": {"field": "value", "type": "quantitative", "scale": {"domain": [0, 19], "nice": false}, "axis": {"title": "Ameloblastoma Rep2"}}, "y2": {"datum": 0},
     "color": {"field": "strand", "type": "nominal", "scale": {"domain": ["rev", "fwd", "both"], "range": ["#3fe3ad", "#f5234b", "#6e2c3e"]}, "legend": null}}},
  {"width": 541, "height": 19, "data": {"name": "cov"}, "transform": [{"filter": "datum.track === 'C3'"}], "mark": {"type": "rect"},
   "encoding": {"x": {"field": "start", "type": "quantitative", "scale": {"domain": [16408250, 16463900], "nice": false, "zero": false}, "axis": {"title": null}}, "x2": {"field": "end"},
     "y": {"field": "value", "type": "quantitative", "scale": {"domain": [0, 19], "nice": false}, "axis": {"title": "Ameloblastoma Rep3"}}, "y2": {"datum": 0},
     "color": {"field": "strand", "type": "nominal", "scale": {"domain": ["rev", "fwd", "both"], "range": ["#3fe3ad", "#f5234b", "#6e2c3e"]}, "legend": null}}},
  {"width": 541, "height": 19, "data": {"name": "cov"}, "transform": [{"filter": "datum.track === 'C4'"}], "mark": {"type": "rect"},
   "encoding": {"x": {"field": "start", "type": "quantitative", "scale": {"domain": [16408250, 16463900], "nice": false, "zero": false}, "axis": {"title": null}}, "x2": {"field": "end"},
     "y": {"field": "value", "type": "quantitative", "scale": {"domain": [0, 19], "nice": false}, "axis": {"title": "Control Rep1"}}, "y2": {"datum": 0},
     "color": {"field": "strand", "type": "nominal", "scale": {"domain": ["rev", "fwd", "both"], "range": ["#3fe3ad", "#f5234b", "#6e2c3e"]}, "legend": null}}},
  {"width": 541, "height": 19, "data": {"name": "cov"}, "transform": [{"filter": "datum.track === 'C5'"}], "mark": {"type": "rect"},
   "encoding": {"x": {"field": "start", "type": "quantitative", "scale": {"domain": [16408250, 16463900], "nice": false, "zero": false}, "axis": {"title": null}}, "x2": {"field": "end"},
     "y": {"field": "value", "type": "quantitative", "scale": {"domain": [0, 19], "nice": false}, "axis": {"title": "Control Rep2"}}, "y2": {"datum": 0},
     "color": {"field": "strand", "type": "nominal", "scale": {"domain": ["rev", "fwd", "both"], "range": ["#3fe3ad", "#f5234b", "#6e2c3e"]}, "legend": null}}},
  {"width": 541, "height": 19, "data": {"name": "cov"}, "transform": [{"filter": "datum.track === 'C6'"}], "mark": {"type": "rect"},
   "encoding": {"x": {"field": "start", "type": "quantitative", "scale": {"domain": [16408250, 16463900], "nice": false, "zero": false}, "axis": {"title": null, "domainColor": "#a9b6dc"}}, "x2": {"field": "end"},
     "y": {"field": "value", "type": "quantitative", "scale": {"domain": [0, 19], "nice": false}, "axis": {"title": "Control Rep3"}}, "y2": {"datum": 0},
     "color": {"field": "strand", "type": "nominal", "scale": {"domain": ["rev", "fwd", "both"], "range": ["#3fe3ad", "#f5234b", "#6e2c3e"]}, "legend": null}}},

  {"width": 541, "height": 10, "data": {"name": "feat"}, "transform": [{"filter": "datum.kind === 'peak'"}],
   "mark": {"type": "tick", "color": "#7d89f0", "thickness": 1.2, "size": 6, "opacity": 1},
   "encoding": {"x": {"field": "start", "type": "quantitative", "scale": {"domain": [16408250, 16463900], "nice": false, "zero": false},
     "axis": {"domain": false, "title": "diffreps_peak_29540", "titleX": 261, "titleY": 5.7, "titleAlign": "center", "titleBaseline": "middle", "titleAngle": 0, "titleFontSize": 4.6, "titleFontWeight": "normal", "titleColor": "#222222"}}}},

  {"width": 541, "height": 9, "data": {"values": []}, "mark": "point"},

  {"width": 541, "height": 4, "data": {"name": "ruler"}, "transform": [{"filter": "datum.panel === 'C'"}],
   "mark": {"type": "rule", "opacity": 0},
   "encoding": {"x": {"field": "start", "type": "quantitative", "scale": {"domain": [16408250, 16463900], "nice": false, "zero": false}, "axis": {"orient": "top", "title": null, "domainColor": "#b4bfe6"}}, "x2": {"field": "end"}}},

  {"width": 541, "height": 7, "data": {"name": "feat"}, "transform": [{"filter": "datum.kind === 'circ'"}],
   "mark": {"type": "rule", "color": "#1a1af2", "strokeWidth": 7, "strokeCap": "butt"},
   "encoding": {"x": {"field": "start", "type": "quantitative", "scale": {"domain": [16408250, 16463900], "nice": false, "zero": false},
     "axis": {"orient": "top", "domain": true, "domainColor": "#b4bfe6", "title": "hsa_circ_0086414", "titleX": 271, "titleY": 11.7, "titleAlign": "center", "titleBaseline": "middle", "titleAngle": 0, "titleFontSize": 10.4, "titleFontWeight": "normal", "titleColor": "#111111"}},
     "x2": {"field": "end"}}},

  {"width": 541, "height": 31, "data": {"name": "feat"},
   "encoding": {"x": {"field": "start", "type": "quantitative", "scale": {"domain": [16408250, 16463900], "nice": false, "zero": false},
     "axis": {"orient": "bottom", "domain": false, "title": "BNC2", "titleX": 273, "titleY": -4.5, "titleAlign": "center", "titleBaseline": "middle", "titleAngle": 0, "titleFontSize": 10, "titleFontWeight": "normal", "titleColor": "#111111"}}},
   "layer": [
     {"transform": [{"filter": "datum.panel === 'C' && datum.kind === 'tx'"}], "mark": {"type": "rule", "color": "#4b5cff", "strokeWidth": 1}, "encoding": {"x2": {"field": "end"}}},
     {"data": {"name": "chev"}, "transform": [{"filter": "datum.panel === 'C'"}], "mark": {"type": "point", "shape": "M0.6,-1L-0.4,0L0.6,1", "filled": false, "color": "#3b4cff", "strokeWidth": 1, "size": 20, "opacity": 1}, "encoding": {}},
     {"transform": [{"filter": "datum.panel === 'C' && (datum.kind === 'utr2' || datum.kind === 'cds2')"}], "mark": {"type": "rule", "color": "#1a1af2", "strokeCap": "butt"},
      "encoding": {"x2": {"field": "end"}, "strokeWidth": {"field": "kind", "type": "nominal", "scale": {"domain": ["utr", "cds", "nc", "circ", "utr2", "cds2"], "range": [4.5, 7, 5, 7, 5, 8.5]}, "legend": null}}}
   ]}
]
}
